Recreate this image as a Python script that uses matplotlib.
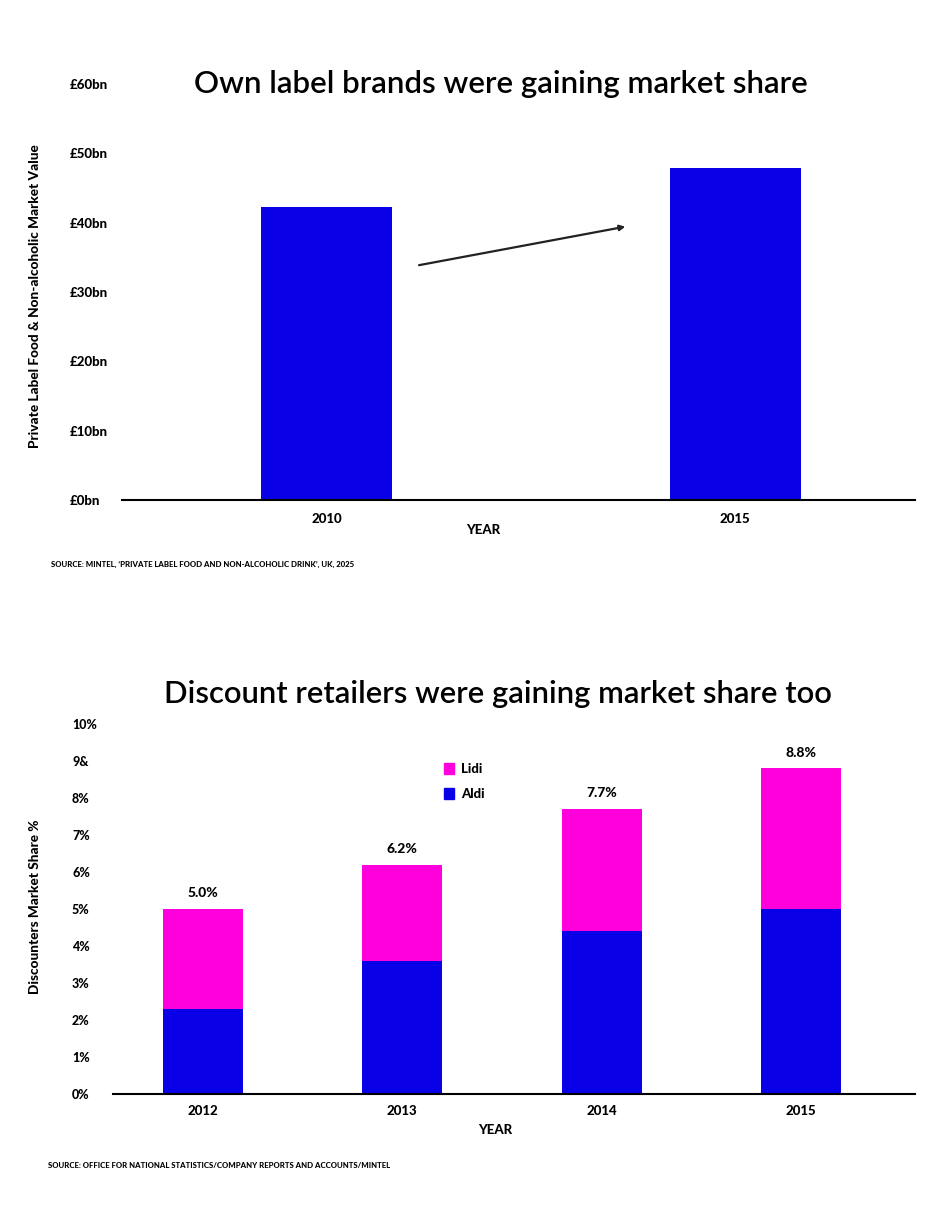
import matplotlib.pyplot as plt
from matplotlib.patches import Patch

plt.rcParams['font.family'] = ['Lato', 'DejaVu Sans']

# top chart data
years_top = ['2010', '2015']
market_value = [42.3, 47.9]  # £bn
yticks_top = [0, 10, 20, 30, 40, 50, 60]
ytick_labels_top = ['£0bn', '£10bn', '£20bn', '£30bn', '£40bn', '£50bn', '£60bn']

# bottom chart data
years_bot = ['2012', '2013', '2014', '2015']
aldi = [2.3, 3.6, 4.4, 5.0]
lidl = [2.7, 2.6, 3.3, 3.8]
totals = ['5.0%', '6.2%', '7.7%', '8.8%']
yticks_bot = [0, 1, 2, 3, 4, 5, 6, 7, 8, 9, 10]
ytick_labels_bot = ['0%', '1%', '2%', '3%', '4%', '5%', '6%', '7%', '8%', '9&', '10%']

blue = '#0A00E8'
pink = '#FF00DC'
W = 'black'

fig = plt.figure(figsize=(9.3, 12.16), dpi=100)

# ---- top chart
ax1 = fig.add_axes([0.1312, 0.5888, 0.8527, 0.3421])
x1 = range(len(years_top))
ax1.bar(x1, market_value, width=0.32, color=blue)
ax1.set_xlim(-0.5, 1.44)
ax1.set_ylim(0, 60)
ax1.set_yticks(yticks_top)
ax1.set_yticklabels(ytick_labels_top, ha='left', fontsize=9.5, fontweight=W)
ax1.tick_params(axis='y', length=0, pad=37.4)
ax1.set_xticks(list(x1))
ax1.set_xticklabels(years_top, fontsize=9.5, fontweight=W)
ax1.tick_params(axis='x', length=0, pad=9)
for s in ['top', 'right', 'left']:
    ax1.spines[s].set_visible(False)
ax1.spines['bottom'].set_linewidth(1.5)
ax1.set_xlabel('YEAR', fontsize=9.5, fontweight=W)
ax1.xaxis.set_label_coords(0.455, -0.058)
ax1.set_ylabel('Private Label Food & Non-alcoholic Market Value', fontsize=9.8, fontweight=W)
ax1.yaxis.set_label_coords(-0.102, 0.49)
ax1.annotate('', xy=(0.738, 39.5), xytext=(0.22, 33.8),
             arrowprops=dict(arrowstyle='-|>', color='#222222', lw=1.6, mutation_scale=8))
fig.text(0.539, 1 - 84 / 1216, 'Own label brands were gaining market share',
         ha='center', va='center', fontsize=22.5, fontweight='semibold')
fig.text(51 / 930, 1 - 564 / 1216,
         "SOURCE: MINTEL, \u2018PRIVATE LABEL FOOD AND NON-ALCOHOLIC DRINK\u2019, UK, 2025",
         ha='left', va='center', fontsize=5.6, fontweight=W)

# ---- bottom chart
ax2 = fig.add_axes([0.1215, 0.1003, 0.8624, 0.3043])
x2 = range(len(years_bot))
ax2.bar(x2, aldi, width=0.4, color=blue, label='Aldi')
ax2.bar(x2, lidl, width=0.4, bottom=aldi, color=pink, label='Lidi')
for i, t in enumerate(totals):
    ax2.annotate(t, (i, aldi[i] + lidl[i]), xytext=(0, 7), textcoords='offset points',
                 ha='center', va='bottom', fontsize=10, fontweight=W)
ax2.set_xlim(-0.45, 3.57)
ax2.set_ylim(0, 10)
ax2.set_yticks(yticks_bot)
ax2.set_yticklabels(ytick_labels_bot, ha='left', fontsize=9, fontweight=W)
ax2.tick_params(axis='y', length=0, pad=29.5)
ax2.set_xticks(list(x2))
ax2.set_xticklabels(years_bot, fontsize=9.5, fontweight=W)
ax2.tick_params(axis='x', length=0, pad=8)
for s in ['top', 'right', 'left']:
    ax2.spines[s].set_visible(False)
ax2.spines['bottom'].set_linewidth(1.5)
ax2.set_xlabel('YEAR', fontsize=9.5, fontweight=W)
ax2.xaxis.set_label_coords(0.477, -0.082)
ax2.set_ylabel('Discounters Market Share %', fontsize=9.8, fontweight=W)
ax2.yaxis.set_label_coords(-0.09, 0.505)
handles = [Patch(color=pink, label='Lidi'), Patch(color=blue, label='Aldi')]
leg = fig.legend(handles=handles, loc='upper left', bbox_to_anchor=(432 / 930, 1 - 751 / 1216),
                 frameon=False, handlelength=0.8, handleheight=0.9, handletextpad=0.5,
                 labelspacing=1.0, prop={'weight': W, 'size': 9.5})
fig.text(0.535, 1 - 694 / 1216, 'Discount retailers were gaining market share too',
         ha='center', va='center', fontsize=22.3, fontweight='semibold')
fig.text(48 / 930, 1 - 1165 / 1216,
         'SOURCE: OFFICE FOR NATIONAL STATISTICS/COMPANY REPORTS AND ACCOUNTS/MINTEL',
         ha='left', va='center', fontsize=5.6, fontweight=W)

fig.savefig('out.png', dpi=100, facecolor='white')
